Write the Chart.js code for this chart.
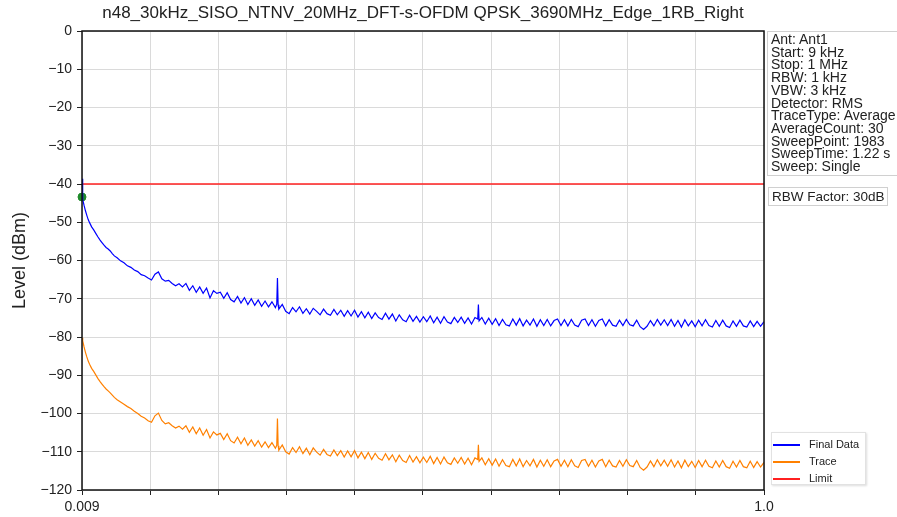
<!DOCTYPE html>
<html>
<head>
<meta charset="utf-8">
<script src="https://cdn.jsdelivr.net/npm/chart.js@4.4.1/dist/chart.umd.min.js"></script>
<style>
  body { margin: 0; background: #fff; font-family: "Liberation Sans", Arial, sans-serif; }
  #wrap { position: relative; width: 897px; height: 517px; overflow: hidden; }
  #info {
    position: absolute; left: 767px; top: 31px; width: 140px; height: 145px;
    border: 1px solid #d0d0d0; box-sizing: border-box; padding: 1px 0 0 3px;
    font-size: 14px; line-height: 12.7px; color: #222; white-space: nowrap;
  }
  #rbw {
    position: absolute; left: 768px; top: 187px; width: 120px; height: 19px;
    border: 1px solid #d0d0d0; box-sizing: border-box; padding: 1px 0 0 3px;
    font-size: 13.5px; line-height: 15px; color: #222; white-space: nowrap;
  }
  #legend {
    position: absolute; left: 771px; top: 432px; width: 95px; height: 53px;
    border: 1px solid #e2e2e2; box-shadow: 1px 1px 2px #ddd; box-sizing: border-box;
    font-size: 11px; color: #222;
  }
  .item { position: absolute; left: 1px; height: 14px; line-height: 14px; white-space: nowrap; }
  .item span.ln { display: inline-block; width: 27px; height: 2px; vertical-align: middle; margin-right: 9px; }
</style>
</head>
<body>
<div id="wrap">
  <canvas id="chart" width="897" height="517"></canvas>
  <div id="info"></div>
  <div id="rbw">RBW Factor: 30dB</div>
  <div id="legend"></div>
</div>
<script>
// frequencies in MHz (sweep 9 kHz .. 1 MHz)
const freqs = [
  0.009, 0.010, 0.012, 0.014, 0.016, 0.018, 0.020, 0.023, 0.026, 0.029,
  0.032, 0.035, 0.038, 0.041, 0.044, 0.047, 0.050, 0.053, 0.056,
  0.060, 0.065, 0.070, 0.075, 0.080, 0.085, 0.090, 0.095, 0.100, 0.105,
  0.110, 0.115, 0.120, 0.125, 0.130, 0.135, 0.140, 0.145, 0.150, 0.155,
  0.160, 0.165, 0.170, 0.175, 0.180, 0.185, 0.190, 0.195, 0.200, 0.205,
  0.210, 0.215, 0.220, 0.225, 0.230, 0.235, 0.240, 0.245, 0.250, 0.255,
  0.260, 0.265, 0.270, 0.275, 0.280, 0.285, 0.290, 0.292, 0.293, 0.294, 0.295, 0.300, 0.305,
  0.310, 0.315, 0.320, 0.325, 0.330, 0.335, 0.340, 0.345, 0.350, 0.355,
  0.360, 0.365, 0.370, 0.375, 0.380, 0.385, 0.390, 0.395, 0.400, 0.405,
  0.410, 0.415, 0.420, 0.425, 0.430, 0.435, 0.440, 0.445, 0.450, 0.455,
  0.460, 0.465, 0.470, 0.475, 0.480, 0.485, 0.490, 0.495, 0.500, 0.505,
  0.510, 0.515, 0.520, 0.525, 0.530, 0.535, 0.540, 0.545, 0.550, 0.555,
  0.560, 0.565, 0.570, 0.575, 0.580, 0.584, 0.585, 0.586, 0.590, 0.595, 0.600, 0.605,
  0.610, 0.615, 0.620, 0.625, 0.630, 0.635, 0.640, 0.645, 0.650, 0.655,
  0.660, 0.665, 0.670, 0.675, 0.680, 0.685, 0.690, 0.695, 0.700, 0.705,
  0.710, 0.715, 0.720, 0.725, 0.730, 0.735, 0.740, 0.745, 0.750, 0.755,
  0.760, 0.765, 0.770, 0.775, 0.780, 0.785, 0.790, 0.795, 0.800, 0.805,
  0.810, 0.815, 0.820, 0.825, 0.830, 0.835, 0.840, 0.845, 0.850, 0.855,
  0.860, 0.865, 0.870, 0.875, 0.880, 0.885, 0.890, 0.895, 0.900, 0.905,
  0.910, 0.915, 0.920, 0.925, 0.930, 0.935, 0.940, 0.945, 0.950, 0.955,
  0.960, 0.965, 0.970, 0.975, 0.980, 0.985, 0.990, 0.995, 1.000
];

// Final Data (dBm)
const finalData = [
  -38.6, -44.0, -45.6, -47.0, -48.2, -49.3, -50.1, -51.2, -52.0, -52.9,
  -53.8, -54.6, -55.3, -56.0, -56.6, -57.0, -57.5, -58.2, -58.8,
  -59.3, -60.1, -60.6, -61.4, -61.8, -62.5, -62.9, -63.7, -64.0, -64.6,
  -65.1, -63.6, -63.0, -64.8, -65.4, -65.2, -66.0, -66.6, -66.1, -66.9,
  -66.0, -67.8, -66.6, -68.3, -66.9, -68.6, -67.2, -69.8, -67.9, -68.6,
  -68.3, -69.9, -68.4, -70.2, -70.8, -69.4, -71.1, -69.7, -71.5, -70.0,
  -71.7, -70.3, -72.0, -70.6, -72.1, -70.8, -72.3, -71.4, -64.6, -71.6, -72.7, -71.5, -73.3,
  -73.9, -72.3, -73.4, -72.1, -73.8, -72.6, -74.0, -72.5, -73.3, -74.2,
  -72.7, -73.9, -74.3, -72.8, -74.2, -73.0, -74.6, -73.1, -74.5, -73.0,
  -74.8, -73.4, -75.0, -73.5, -75.2, -73.7, -74.9, -75.4, -73.8, -75.3,
  -74.0, -75.8, -74.2, -75.5, -76.0, -74.3, -75.9, -74.6, -76.1, -74.7,
  -76.0, -74.5, -76.3, -74.8, -76.4, -74.7, -76.1, -76.5, -74.9, -76.2,
  -74.8, -76.4, -75.0, -76.6, -74.9, -75.3, -71.5, -75.8, -74.9, -76.6, -75.1, -76.7,
  -75.2, -77.0, -75.4, -76.8, -77.1, -75.3, -76.9, -75.2, -77.1, -75.6,
  -76.9, -75.3, -77.2, -75.5, -77.0, -75.4, -77.1, -75.7, -75.3, -77.0,
  -75.5, -77.1, -75.4, -76.9, -77.3, -75.6, -75.3, -77.0, -75.5, -77.2,
  -75.7, -75.3, -77.1, -75.5, -76.9, -77.2, -75.6, -77.0, -75.4, -76.8,
  -77.1, -75.6, -77.3, -78.0, -77.2, -75.7, -77.1, -75.4, -76.9, -75.5,
  -77.0, -75.4, -77.2, -75.7, -77.4, -75.5, -77.1, -75.8, -77.3, -75.6,
  -77.1, -75.5, -77.0, -77.4, -75.7, -77.2, -75.6, -77.1, -77.5, -75.8,
  -77.2, -75.6, -77.1, -77.4, -75.8, -77.3, -75.9, -77.2, -76.0
];

// Trace (dBm)
const traceData = [
  -80.2, -81.0, -82.6, -84.0, -85.2, -86.3, -87.1, -88.2, -89.0, -89.9,
  -90.8, -91.6, -92.3, -93.0, -93.6, -94.1, -94.6, -95.2, -95.8,
  -96.4, -97.0, -97.6, -98.2, -98.7, -99.4, -100.0, -100.7, -101.2, -101.9,
  -102.3, -100.6, -99.9, -101.8, -102.7, -102.4, -103.2, -103.8, -103.3, -104.1,
  -103.2, -104.9, -103.5, -105.3, -103.8, -105.7, -104.2, -106.4, -104.8, -105.6,
  -105.2, -106.8, -105.3, -107.1, -107.7, -106.2, -107.9, -106.4, -108.3, -106.9,
  -108.5, -107.1, -108.8, -107.4, -108.9, -107.6, -109.1, -108.3, -101.3, -108.4, -109.6, -108.2, -110.0,
  -110.6, -108.9, -110.2, -108.7, -110.5, -109.1, -110.8, -109.0, -110.1, -110.9,
  -109.4, -110.7, -111.1, -109.5, -111.0, -109.7, -111.4, -109.8, -111.3, -109.7,
  -111.6, -110.1, -111.8, -110.2, -112.0, -110.4, -111.7, -112.2, -110.5, -112.1,
  -110.8, -112.6, -110.9, -112.3, -112.8, -111.0, -112.7, -111.3, -112.9, -111.4,
  -112.8, -111.2, -113.1, -111.5, -113.2, -111.4, -112.9, -113.3, -111.6, -113.0,
  -111.5, -113.2, -111.7, -113.4, -111.6, -112.0, -108.2, -112.5, -111.6, -113.4, -111.8, -113.5,
  -111.9, -113.8, -112.1, -113.6, -113.9, -112.0, -113.7, -111.9, -113.9, -112.3,
  -113.7, -112.0, -114.0, -112.2, -113.8, -112.1, -113.9, -112.4, -112.0, -113.8,
  -112.2, -113.9, -112.1, -113.7, -114.1, -112.3, -112.0, -113.8, -112.2, -114.0,
  -112.4, -112.0, -113.9, -112.2, -113.7, -114.0, -112.3, -113.8, -112.1, -113.6,
  -113.9, -112.3, -114.1, -114.8, -114.0, -112.4, -113.9, -112.1, -113.7, -112.2,
  -113.8, -112.1, -114.0, -112.4, -114.2, -112.2, -113.9, -112.5, -114.1, -112.3,
  -113.9, -112.2, -113.8, -114.2, -112.4, -114.0, -112.3, -113.9, -114.3, -112.5,
  -114.0, -112.3, -113.9, -114.2, -112.5, -114.1, -112.6, -114.0, -112.8
];

const limitFreqs = [0.009, 1.0];
const limitLevels = [-40, -40];
const markerFreq = [0.009];
const markerLevel = [-43.4];

const xTickValues = [0.009, 0.1081, 0.2072, 0.3063, 0.4054, 0.5045, 0.6036, 0.7027, 0.8018, 0.9009, 1.0];
const xTickLabels = ['0.009', '', '', '', '', '', '', '', '', '', '1.0'];

const infoLines = [
  'Ant: Ant1', 'Start: 9 kHz', 'Stop: 1 MHz', 'RBW: 1 kHz', 'VBW: 3 kHz',
  'Detector: RMS', 'TraceType: Average', 'AverageCount: 30',
  'SweepPoint: 1983', 'SweepTime: 1.22 s', 'Sweep: Single'
];

const FONT = '"Liberation Sans", Arial, sans-serif';

function pts(xs, ys) {
  return xs.map((x, i) => ({ x: x, y: ys[i] }));
}

// black frame around the plot
const framePlugin = {
  id: 'frame',
  afterDatasetsDraw(chart) {
    const a = chart.chartArea;
    const ctx = chart.ctx;
    ctx.save();
    ctx.strokeStyle = '#111';
    ctx.lineWidth = 1.5;
    ctx.strokeRect(a.left, a.top, a.right - a.left, a.bottom - a.top);
    ctx.restore();
  }
};

const chart = new Chart(document.getElementById('chart').getContext('2d'), {
  type: 'line',
  data: {
    datasets: [
      {
        label: 'Final Data',
        data: pts(freqs, finalData),
        borderColor: '#0000ff',
        borderWidth: 1.2,
        pointRadius: 0,
        tension: 0
      },
      {
        label: 'Trace',
        data: pts(freqs, traceData),
        borderColor: '#ff8000',
        borderWidth: 1.2,
        pointRadius: 0,
        tension: 0
      },
      {
        label: 'Limit',
        data: pts(limitFreqs, limitLevels),
        borderColor: '#ff2020',
        borderWidth: 1.5,
        pointRadius: 0
      },
      {
        label: '',
        data: pts(markerFreq, markerLevel),
        showLine: false,
        pointRadius: 4,
        pointBackgroundColor: '#1f8a2a',
        pointBorderColor: '#1f8a2a',
        clip: false
      }
    ]
  },
  options: {
    responsive: false,
    animation: false,
    devicePixelRatio: 1,
    layout: { padding: { left: 0, right: 133, top: 0, bottom: 0 } },
    plugins: {
      legend: { display: false },
      tooltip: { enabled: false },
      title: {
        display: true,
        fullSize: false,
        text: 'n48_30kHz_SISO_NTNV_20MHz_DFT-s-OFDM QPSK_3690MHz_Edge_1RB_Right',
        color: '#222',
        font: { family: FONT, size: 17, weight: 'normal' },
        padding: { top: 3, bottom: 7.6 }
      }
    },
    scales: {
      x: {
        type: 'linear',
        min: 0.009,
        max: 1.0,
        afterFit(scale) { scale.height = 27; },
        afterBuildTicks(scale) { scale.ticks = xTickValues.map(v => ({ value: v })); },
        ticks: {
          color: '#222',
          font: { family: FONT, size: 14 },
          padding: 4,
          maxRotation: 0,
          autoSkip: false,
          callback: (v, i) => xTickLabels[i]
        },
        grid: { color: '#dadada', tickColor: '#222', tickLength: 5 },
        border: { display: false }
      },
      y: {
        min: -120,
        max: 0,
        afterFit(scale) { scale.width = 82; },
        ticks: {
          stepSize: 10,
          color: '#222',
          font: { family: FONT, size: 14 },
          padding: 5,
          callback: v => (v < 0 ? '\u2212' + Math.abs(v) : String(v))
        },
        grid: { color: '#dadada', tickColor: '#222', tickLength: 5 },
        border: { display: false },
        title: {
          display: true,
          text: 'Level (dBm)',
          color: '#222',
          font: { family: FONT, size: 18 },
          padding: { top: 9, bottom: 0 }
        }
      }
    }
  },
  plugins: [framePlugin]
});

// side boxes
document.getElementById('info').innerHTML = infoLines.map(s => '<div>' + s + '</div>').join('');

const legend = document.getElementById('legend');
chart.data.datasets.filter(d => d.label).forEach((d, i) => {
  const el = document.createElement('div');
  el.className = 'item';
  el.style.top = (4 + i * 17) + 'px';
  el.innerHTML = '<span class="ln" style="background:' + d.borderColor + '"></span>' + d.label;
  legend.appendChild(el);
});
</script>
</body>
</html>
